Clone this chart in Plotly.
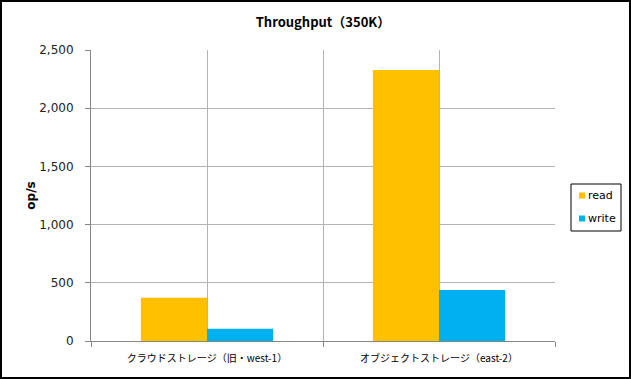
import plotly.graph_objects as go

categories = ["クラウドストレージ（旧・west-1）", "オブジェクトストレージ（east-2）"]
read_values = [372, 2328]
write_values = [106, 438]
series_names = ["read", "write"]
series_colors = ["#FFC000", "#00B0F0"]
y_ticks = [0, 500, 1000, 1500, 2000, 2500]

W, H = 631, 379
L, R, T, B = 91, 0, 50, 38
plot_right = 555
pw = W - L - R
ph = H - T - B


def px_x(px):
    return (px - L) / pw


def px_y(py):
    return ((H - B) - py) / ph


x_pos = list(range(len(categories)))
boundaries = [i - 0.5 for i in range(len(categories) + 1)]

fig = go.Figure()
for name, vals, col in zip(series_names, [read_values, write_values], series_colors):
    fig.add_trace(go.Bar(x=x_pos, y=vals, name=name, marker_color=col,
                         marker_line_width=0, showlegend=False))

grid = "#B3B3B3"
axis_c = "#868686"
fig.update_layout(
    width=W, height=H,
    margin=dict(l=L, r=R, t=T, b=B, autoexpand=False),
    paper_bgcolor="white", plot_bgcolor="white",
    barmode="group", bargap=0.43, bargroupgap=0,
    title=dict(text="<b>Throughput（350K）</b>", x=((L + plot_right) / 2) / W, xref="container",
               xanchor="center", y=1 - 22 / H, yanchor="middle",
               font=dict(family="Noto Sans CJK JP", size=13, color="#000000")),
    font=dict(family="DejaVu Sans", size=11, color="#222222"),
    showlegend=False,
)
fig.update_xaxes(
    domain=[0, (plot_right - L) / pw],
    range=[boundaries[0], boundaries[-1]],
    tickvals=x_pos, ticktext=categories, ticks="",
    tickfont=dict(family="Noto Sans CJK JP", size=10, color="#000000"),
    ticklabelstandoff=8,
    showgrid=True, gridcolor=grid, gridwidth=1,
    minor=dict(tickvals=boundaries, ticks="outside", ticklen=5, tickcolor=axis_c,
               showgrid=True, gridcolor=grid, gridwidth=1),
    showline=True, linecolor=axis_c, linewidth=1,
    zeroline=False, fixedrange=True,
)
fig.update_yaxes(
    range=[0, 2500], tickvals=y_ticks, tickformat=",",
    ticks="outside", ticklen=5, tickcolor=axis_c,
    tickfont=dict(family="DejaVu Sans", size=12, color="#222222"),
    ticklabelstandoff=9,
    showgrid=True, gridcolor=grid, gridwidth=1,
    showline=True, linecolor=axis_c, linewidth=1,
    zeroline=False,
    title=dict(text="<b>op/s</b>", standoff=1,
               font=dict(family="DejaVu Sans", size=12, color="#000000")),
)

# compact legend (box, swatches, labels)
fig.add_shape(type="rect", xref="paper", yref="paper",
              x0=px_x(571), x1=px_x(621), y0=px_y(231), y1=px_y(184),
              line=dict(color="#000000", width=1), fillcolor="white")
for i, (name, col) in enumerate(zip(series_names, series_colors)):
    cy = 195.5 + i * 23
    fig.add_shape(type="rect", xref="paper", yref="paper",
                  x0=px_x(579), x1=px_x(585), y0=px_y(cy + 3), y1=px_y(cy - 3),
                  line=dict(width=0), fillcolor=col)
    fig.add_annotation(text=name, xref="paper", yref="paper", x=px_x(586), y=px_y(cy),
                       xanchor="left", yanchor="middle", showarrow=False,
                       font=dict(family="DejaVu Sans", size=11, color="#000000"))

# outer chart border
fig.add_shape(type="rect", xref="paper", yref="paper",
              x0=px_x(1), x1=px_x(W - 1), y0=px_y(H - 1), y1=px_y(1),
              line=dict(color="#000000", width=2), fillcolor="rgba(0,0,0,0)")
fig.write_html("out.html")
